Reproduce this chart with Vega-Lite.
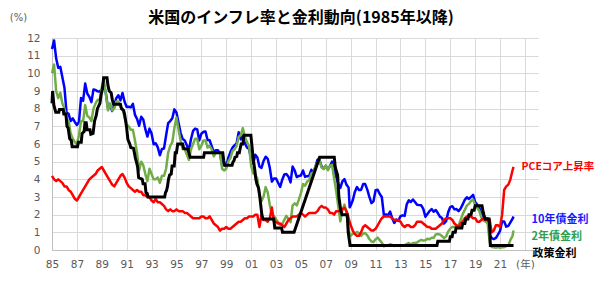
{
"$schema":"https://vega.github.io/schema/vega-lite/v6.json",
"width":486,"height":212,
"autosize":{"type":"none"},
"padding":{"left":52,"top":38,"right":62,"bottom":37},
"background":"white",
"config":{"view":{"stroke":null},"font":"DejaVu Sans"},
"title":{"text":"米国のインフレ率と金利動向(1985年以降)","font":"Noto Sans CJK JP","fontSize":16,"fontWeight":"bold","color":"#000000","anchor":"middle","dx":6,"offset":-14},
"datasets":{
"rates":[
{"t":1985.000,"y10":11.38,"y2":10.0,"pce":4.2},
{"t":1985.167,"y10":11.86,"y2":10.5,"pce":4.0},
{"t":1985.333,"y10":10.85,"y2":9.0,"pce":3.9},
{"t":1985.500,"y10":10.31,"y2":8.6,"pce":4.0},
{"t":1985.667,"y10":10.37,"y2":8.9,"pce":3.9},
{"t":1985.833,"y10":9.78,"y2":8.3,"pce":3.8},
{"t":1986.000,"y10":9.19,"y2":8.0,"pce":3.6},
{"t":1986.167,"y10":7.78,"y2":7.4,"pce":3.6},
{"t":1986.333,"y10":7.71,"y2":7.3,"pce":3.4},
{"t":1986.500,"y10":7.30,"y2":6.6,"pce":3.3},
{"t":1986.667,"y10":7.45,"y2":6.3,"pce":3.1},
{"t":1986.833,"y10":7.25,"y2":6.1,"pce":2.9},
{"t":1987.000,"y10":7.08,"y2":6.0,"pce":2.8},
{"t":1987.167,"y10":7.25,"y2":6.5,"pce":3.0},
{"t":1987.333,"y10":8.61,"y2":7.3,"pce":3.2},
{"t":1987.500,"y10":8.45,"y2":7.3,"pce":3.4},
{"t":1987.667,"y10":9.42,"y2":8.2,"pce":3.6},
{"t":1987.833,"y10":8.86,"y2":7.6,"pce":3.8},
{"t":1988.000,"y10":8.67,"y2":7.5,"pce":4.0},
{"t":1988.167,"y10":8.37,"y2":7.3,"pce":4.1},
{"t":1988.333,"y10":9.09,"y2":8.0,"pce":4.2},
{"t":1988.500,"y10":9.06,"y2":8.3,"pce":4.3},
{"t":1988.667,"y10":8.98,"y2":8.5,"pce":4.5},
{"t":1988.833,"y10":8.96,"y2":8.5,"pce":4.6},
{"t":1989.000,"y10":9.09,"y2":9.2,"pce":4.7},
{"t":1989.167,"y10":9.36,"y2":9.6,"pce":4.5},
{"t":1989.333,"y10":8.86,"y2":8.8,"pce":4.3},
{"t":1989.500,"y10":8.02,"y2":7.9,"pce":4.1},
{"t":1989.667,"y10":8.19,"y2":8.3,"pce":3.9},
{"t":1989.833,"y10":7.87,"y2":7.9,"pce":3.7},
{"t":1990.000,"y10":8.21,"y2":8.0,"pce":3.6},
{"t":1990.167,"y10":8.59,"y2":8.4,"pce":3.8},
{"t":1990.333,"y10":8.76,"y2":8.4,"pce":4.0},
{"t":1990.500,"y10":8.47,"y2":8.1,"pce":4.2},
{"t":1990.667,"y10":8.89,"y2":8.0,"pce":4.3},
{"t":1990.833,"y10":8.39,"y2":7.5,"pce":4.1},
{"t":1991.000,"y10":8.09,"y2":7.1,"pce":3.8},
{"t":1991.167,"y10":8.11,"y2":7.0,"pce":3.6},
{"t":1991.333,"y10":8.07,"y2":6.8,"pce":3.5},
{"t":1991.500,"y10":8.27,"y2":6.8,"pce":3.4},
{"t":1991.667,"y10":7.65,"y2":6.2,"pce":3.3},
{"t":1991.833,"y10":7.42,"y2":5.5,"pce":3.4},
{"t":1992.000,"y10":7.03,"y2":4.5,"pce":3.3},
{"t":1992.167,"y10":7.54,"y2":5.0,"pce":3.3},
{"t":1992.333,"y10":7.39,"y2":4.8,"pce":3.1},
{"t":1992.500,"y10":6.84,"y2":4.3,"pce":3.1},
{"t":1992.667,"y10":6.42,"y2":3.9,"pce":3.0},
{"t":1992.833,"y10":6.87,"y2":4.6,"pce":3.0},
{"t":1993.000,"y10":6.60,"y2":4.3,"pce":2.8},
{"t":1993.167,"y10":5.98,"y2":4.0,"pce":2.7},
{"t":1993.333,"y10":6.04,"y2":4.0,"pce":2.9},
{"t":1993.500,"y10":5.81,"y2":4.1,"pce":2.7},
{"t":1993.667,"y10":5.36,"y2":3.8,"pce":2.7},
{"t":1993.833,"y10":5.72,"y2":4.2,"pce":2.6},
{"t":1994.000,"y10":5.75,"y2":4.2,"pce":2.5},
{"t":1994.167,"y10":6.48,"y2":4.6,"pce":2.3},
{"t":1994.333,"y10":7.18,"y2":5.5,"pce":2.2},
{"t":1994.500,"y10":7.30,"y2":5.9,"pce":2.3},
{"t":1994.667,"y10":7.46,"y2":6.1,"pce":2.2},
{"t":1994.833,"y10":7.96,"y2":6.9,"pce":2.2},
{"t":1995.000,"y10":7.78,"y2":7.5,"pce":2.3},
{"t":1995.167,"y10":7.20,"y2":6.8,"pce":2.2},
{"t":1995.333,"y10":6.63,"y2":6.2,"pce":2.2},
{"t":1995.500,"y10":6.28,"y2":5.7,"pce":2.2},
{"t":1995.667,"y10":6.20,"y2":5.7,"pce":2.1},
{"t":1995.833,"y10":5.93,"y2":5.4,"pce":2.1},
{"t":1996.000,"y10":5.65,"y2":5.1,"pce":2.0},
{"t":1996.167,"y10":6.27,"y2":5.7,"pce":1.9},
{"t":1996.333,"y10":6.74,"y2":6.0,"pce":1.8},
{"t":1996.500,"y10":6.87,"y2":6.3,"pce":1.8},
{"t":1996.667,"y10":6.83,"y2":6.3,"pce":1.8},
{"t":1996.833,"y10":6.20,"y2":5.7,"pce":1.8},
{"t":1997.000,"y10":6.58,"y2":5.9,"pce":1.9},
{"t":1997.167,"y10":6.69,"y2":6.2,"pce":1.9},
{"t":1997.333,"y10":6.71,"y2":6.2,"pce":1.8},
{"t":1997.500,"y10":6.22,"y2":5.8,"pce":1.8},
{"t":1997.667,"y10":6.21,"y2":5.9,"pce":1.9},
{"t":1997.833,"y10":5.88,"y2":5.7,"pce":1.7},
{"t":1998.000,"y10":5.54,"y2":5.3,"pce":1.5},
{"t":1998.167,"y10":5.65,"y2":5.5,"pce":1.4},
{"t":1998.333,"y10":5.65,"y2":5.5,"pce":1.3},
{"t":1998.500,"y10":5.46,"y2":5.5,"pce":1.1},
{"t":1998.667,"y10":4.81,"y2":4.6,"pce":1.2},
{"t":1998.833,"y10":4.83,"y2":4.5,"pce":1.2},
{"t":1999.000,"y10":4.72,"y2":4.6,"pce":1.3},
{"t":1999.167,"y10":5.23,"y2":5.0,"pce":1.2},
{"t":1999.333,"y10":5.54,"y2":5.2,"pce":1.2},
{"t":1999.500,"y10":5.79,"y2":5.6,"pce":1.3},
{"t":1999.667,"y10":5.92,"y2":5.7,"pce":1.4},
{"t":1999.833,"y10":6.03,"y2":5.9,"pce":1.5},
{"t":2000.000,"y10":6.66,"y2":6.4,"pce":1.6},
{"t":2000.167,"y10":6.26,"y2":6.5,"pce":1.6},
{"t":2000.333,"y10":6.44,"y2":6.9,"pce":1.7},
{"t":2000.500,"y10":6.05,"y2":6.4,"pce":1.8},
{"t":2000.667,"y10":5.80,"y2":6.1,"pce":1.8},
{"t":2000.833,"y10":5.72,"y2":5.9,"pce":1.9},
{"t":2001.000,"y10":5.16,"y2":4.76,"pce":1.9},
{"t":2001.167,"y10":4.89,"y2":4.34,"pce":1.9},
{"t":2001.333,"y10":5.39,"y2":4.26,"pce":2.0},
{"t":2001.500,"y10":5.24,"y2":4.04,"pce":2.0},
{"t":2001.667,"y10":4.73,"y2":3.12,"pce":1.3},
{"t":2001.833,"y10":4.65,"y2":2.78,"pce":2.0},
{"t":2002.000,"y10":5.04,"y2":3.03,"pce":1.7},
{"t":2002.167,"y10":5.28,"y2":3.56,"pce":1.7},
{"t":2002.333,"y10":5.16,"y2":3.26,"pce":1.6},
{"t":2002.500,"y10":4.65,"y2":2.56,"pce":1.8},
{"t":2002.667,"y10":3.87,"y2":2.00,"pce":2.4},
{"t":2002.833,"y10":4.05,"y2":1.92,"pce":1.6},
{"t":2003.000,"y10":4.05,"y2":1.74,"pce":1.6},
{"t":2003.167,"y10":3.81,"y2":1.57,"pce":1.5},
{"t":2003.333,"y10":3.57,"y2":1.42,"pce":1.5},
{"t":2003.500,"y10":3.98,"y2":1.47,"pce":1.4},
{"t":2003.667,"y10":4.27,"y2":1.71,"pce":1.3},
{"t":2003.833,"y10":4.30,"y2":1.93,"pce":1.5},
{"t":2004.000,"y10":4.15,"y2":1.76,"pce":1.7},
{"t":2004.167,"y10":3.83,"y2":1.58,"pce":1.8},
{"t":2004.333,"y10":4.72,"y2":2.53,"pce":1.9},
{"t":2004.500,"y10":4.50,"y2":2.64,"pce":1.9},
{"t":2004.667,"y10":4.13,"y2":2.53,"pce":1.9},
{"t":2004.833,"y10":4.19,"y2":2.85,"pce":2.0},
{"t":2005.000,"y10":4.22,"y2":3.22,"pce":2.1},
{"t":2005.167,"y10":4.50,"y2":3.73,"pce":2.0},
{"t":2005.333,"y10":4.14,"y2":3.64,"pce":1.9},
{"t":2005.500,"y10":4.18,"y2":3.87,"pce":2.0},
{"t":2005.667,"y10":4.20,"y2":3.95,"pce":2.1},
{"t":2005.833,"y10":4.54,"y2":4.33,"pce":2.1},
{"t":2006.000,"y10":4.42,"y2":4.36,"pce":2.1},
{"t":2006.167,"y10":4.72,"y2":4.72,"pce":2.1},
{"t":2006.333,"y10":5.11,"y2":4.96,"pce":2.2},
{"t":2006.500,"y10":5.09,"y2":5.04,"pce":2.4},
{"t":2006.667,"y10":4.72,"y2":4.67,"pce":2.5},
{"t":2006.833,"y10":4.60,"y2":4.58,"pce":2.4},
{"t":2007.000,"y10":4.76,"y2":4.79,"pce":2.4},
{"t":2007.167,"y10":4.56,"y2":4.51,"pce":2.3},
{"t":2007.333,"y10":4.75,"y2":4.77,"pce":2.1},
{"t":2007.500,"y10":5.00,"y2":4.82,"pce":2.1},
{"t":2007.667,"y10":4.52,"y2":4.06,"pce":2.0},
{"t":2007.833,"y10":4.15,"y2":3.34,"pce":2.2},
{"t":2008.000,"y10":3.74,"y2":2.48,"pce":2.2},
{"t":2008.167,"y10":3.51,"y2":1.62,"pce":2.2},
{"t":2008.333,"y10":3.88,"y2":2.26,"pce":2.3},
{"t":2008.500,"y10":4.01,"y2":2.57,"pce":2.4},
{"t":2008.667,"y10":3.69,"y2":2.08,"pce":2.2},
{"t":2008.833,"y10":3.53,"y2":1.21,"pce":1.8},
{"t":2008.917,"y10":2.42,"y2":0.82,"pce":1.6},
{"t":2009.000,"y10":2.52,"y2":0.81,"pce":1.4},
{"t":2009.167,"y10":2.82,"y2":0.93,"pce":1.1},
{"t":2009.333,"y10":3.29,"y2":0.92,"pce":0.9},
{"t":2009.500,"y10":3.56,"y2":1.02,"pce":0.8},
{"t":2009.667,"y10":3.40,"y2":0.96,"pce":0.8},
{"t":2009.833,"y10":3.40,"y2":0.80,"pce":1.0},
{"t":2010.000,"y10":3.73,"y2":0.93,"pce":1.3},
{"t":2010.167,"y10":3.73,"y2":0.96,"pce":1.4},
{"t":2010.333,"y10":3.42,"y2":0.83,"pce":1.3},
{"t":2010.500,"y10":3.01,"y2":0.62,"pce":1.2},
{"t":2010.667,"y10":2.65,"y2":0.48,"pce":1.1},
{"t":2010.833,"y10":2.76,"y2":0.45,"pce":1.1},
{"t":2011.000,"y10":3.39,"y2":0.61,"pce":1.2},
{"t":2011.167,"y10":3.41,"y2":0.70,"pce":1.4},
{"t":2011.333,"y10":3.17,"y2":0.56,"pce":1.6},
{"t":2011.500,"y10":3.00,"y2":0.41,"pce":1.8},
{"t":2011.667,"y10":1.98,"y2":0.21,"pce":1.9},
{"t":2011.833,"y10":2.01,"y2":0.25,"pce":1.9},
{"t":2012.000,"y10":1.97,"y2":0.24,"pce":1.9},
{"t":2012.167,"y10":2.17,"y2":0.33,"pce":1.9},
{"t":2012.333,"y10":1.80,"y2":0.29,"pce":1.8},
{"t":2012.500,"y10":1.53,"y2":0.23,"pce":1.7},
{"t":2012.667,"y10":1.72,"y2":0.26,"pce":1.7},
{"t":2012.833,"y10":1.65,"y2":0.27,"pce":1.7},
{"t":2013.000,"y10":1.91,"y2":0.27,"pce":1.6},
{"t":2013.167,"y10":1.96,"y2":0.26,"pce":1.4},
{"t":2013.333,"y10":1.93,"y2":0.25,"pce":1.3},
{"t":2013.500,"y10":2.58,"y2":0.34,"pce":1.4},
{"t":2013.667,"y10":2.81,"y2":0.40,"pce":1.4},
{"t":2013.833,"y10":2.72,"y2":0.30,"pce":1.3},
{"t":2014.000,"y10":2.86,"y2":0.39,"pce":1.3},
{"t":2014.167,"y10":2.72,"y2":0.40,"pce":1.4},
{"t":2014.333,"y10":2.56,"y2":0.42,"pce":1.6},
{"t":2014.500,"y10":2.54,"y2":0.51,"pce":1.6},
{"t":2014.667,"y10":2.53,"y2":0.57,"pce":1.6},
{"t":2014.833,"y10":2.33,"y2":0.53,"pce":1.5},
{"t":2015.000,"y10":1.88,"y2":0.55,"pce":1.4},
{"t":2015.167,"y10":2.04,"y2":0.64,"pce":1.3},
{"t":2015.333,"y10":2.20,"y2":0.61,"pce":1.3},
{"t":2015.500,"y10":2.32,"y2":0.69,"pce":1.2},
{"t":2015.667,"y10":2.17,"y2":0.69,"pce":1.2},
{"t":2015.833,"y10":2.26,"y2":0.88,"pce":1.2},
{"t":2016.000,"y10":2.09,"y2":0.90,"pce":1.3},
{"t":2016.167,"y10":1.89,"y2":0.88,"pce":1.4},
{"t":2016.333,"y10":1.81,"y2":0.79,"pce":1.5},
{"t":2016.500,"y10":1.50,"y2":0.67,"pce":1.7},
{"t":2016.667,"y10":1.63,"y2":0.77,"pce":1.8},
{"t":2016.833,"y10":2.14,"y2":1.05,"pce":1.8},
{"t":2017.000,"y10":2.43,"y2":1.21,"pce":1.8},
{"t":2017.167,"y10":2.48,"y2":1.31,"pce":1.7},
{"t":2017.333,"y10":2.30,"y2":1.29,"pce":1.5},
{"t":2017.500,"y10":2.32,"y2":1.36,"pce":1.4},
{"t":2017.667,"y10":2.20,"y2":1.38,"pce":1.3},
{"t":2017.833,"y10":2.35,"y2":1.70,"pce":1.5},
{"t":2018.000,"y10":2.58,"y2":2.03,"pce":1.6},
{"t":2018.167,"y10":2.84,"y2":2.27,"pce":1.8},
{"t":2018.333,"y10":2.98,"y2":2.51,"pce":1.9},
{"t":2018.500,"y10":2.89,"y2":2.61,"pce":1.9},
{"t":2018.667,"y10":3.00,"y2":2.77,"pce":1.9},
{"t":2018.833,"y10":3.12,"y2":2.86,"pce":1.8},
{"t":2019.000,"y10":2.71,"y2":2.55,"pce":1.8},
{"t":2019.167,"y10":2.57,"y2":2.39,"pce":1.6},
{"t":2019.333,"y10":2.40,"y2":2.21,"pce":1.6},
{"t":2019.500,"y10":2.06,"y2":1.84,"pce":1.7},
{"t":2019.667,"y10":1.70,"y2":1.67,"pce":1.8},
{"t":2019.833,"y10":1.81,"y2":1.61,"pce":1.7},
{"t":2020.000,"y10":1.76,"y2":1.52,"pce":1.8},
{"t":2020.167,"y10":0.87,"y2":0.45,"pce":1.7},
{"t":2020.333,"y10":0.67,"y2":0.17,"pce":1.0},
{"t":2020.500,"y10":0.62,"y2":0.15,"pce":1.1},
{"t":2020.667,"y10":0.68,"y2":0.13,"pce":1.4},
{"t":2020.833,"y10":0.87,"y2":0.17,"pce":1.4},
{"t":2021.000,"y10":1.08,"y2":0.13,"pce":1.3},
{"t":2021.167,"y10":1.61,"y2":0.15,"pce":2.0},
{"t":2021.333,"y10":1.62,"y2":0.16,"pce":3.4},
{"t":2021.500,"y10":1.32,"y2":0.22,"pce":3.6},
{"t":2021.667,"y10":1.37,"y2":0.24,"pce":3.7},
{"t":2021.833,"y10":1.56,"y2":0.57,"pce":4.0},
{"t":2022.000,"y10":1.76,"y2":0.78,"pce":4.5},
{"t":2022.083,"y10":1.90,"y2":1.10,"pce":4.7}
],
"policy":[
{"t":1985.00,"value":8.3},{"t":1985.05,"value":9.0},{"t":1985.15,"value":8.2},{"t":1985.3,"value":7.8},
{"t":1985.55,"value":7.8},{"t":1985.6,"value":7.95},{"t":1985.9,"value":7.95},{"t":1985.95,"value":7.7},
{"t":1986.12,"value":7.7},{"t":1986.2,"value":7.0},{"t":1986.3,"value":6.9},{"t":1986.42,"value":6.3},
{"t":1986.55,"value":6.2},{"t":1986.62,"value":5.85},{"t":1987.05,"value":5.85},{"t":1987.12,"value":6.1},
{"t":1987.35,"value":6.1},{"t":1987.42,"value":6.6},{"t":1987.58,"value":6.7},{"t":1987.65,"value":7.2},
{"t":1987.75,"value":7.2},{"t":1987.82,"value":6.8},{"t":1988.05,"value":6.8},{"t":1988.12,"value":6.55},
{"t":1988.3,"value":6.6},{"t":1988.42,"value":7.3},{"t":1988.55,"value":7.6},{"t":1988.65,"value":8.0},
{"t":1988.85,"value":8.3},{"t":1988.95,"value":8.8},{"t":1989.05,"value":9.1},{"t":1989.15,"value":9.75},
{"t":1989.42,"value":9.75},{"t":1989.5,"value":9.3},{"t":1989.6,"value":9.0},{"t":1989.75,"value":8.9},
{"t":1989.85,"value":8.5},{"t":1989.95,"value":8.25},{"t":1990.5,"value":8.25},{"t":1990.58,"value":8.0},
{"t":1990.75,"value":7.9},{"t":1990.83,"value":7.7},{"t":1990.92,"value":7.3},{"t":1991.0,"value":6.9},
{"t":1991.1,"value":6.25},{"t":1991.25,"value":6.0},{"t":1991.33,"value":5.8},{"t":1991.55,"value":5.75},
{"t":1991.62,"value":5.5},{"t":1991.7,"value":5.2},{"t":1991.8,"value":4.95},{"t":1991.88,"value":4.7},
{"t":1991.96,"value":4.1},{"t":1992.25,"value":4.0},{"t":1992.32,"value":3.75},{"t":1992.48,"value":3.75},
{"t":1992.55,"value":3.25},{"t":1992.65,"value":3.2},{"t":1992.72,"value":3.0},{"t":1994.05,"value":3.0},
{"t":1994.12,"value":3.25},{"t":1994.2,"value":3.35},{"t":1994.28,"value":3.6},{"t":1994.36,"value":4.0},
{"t":1994.45,"value":4.25},{"t":1994.58,"value":4.3},{"t":1994.65,"value":4.75},{"t":1994.82,"value":4.75},
{"t":1994.9,"value":5.5},{"t":1995.0,"value":5.5},{"t":1995.1,"value":6.0},{"t":1995.5,"value":6.0},
{"t":1995.58,"value":5.75},{"t":1995.92,"value":5.7},{"t":1996.0,"value":5.5},{"t":1996.1,"value":5.25},
{"t":1997.18,"value":5.25},{"t":1997.25,"value":5.5},{"t":1998.72,"value":5.5},{"t":1998.8,"value":5.05},
{"t":1998.88,"value":4.8},{"t":1999.47,"value":4.8},{"t":1999.55,"value":5.0},{"t":1999.62,"value":5.05},
{"t":1999.7,"value":5.25},{"t":1999.85,"value":5.3},{"t":1999.9,"value":5.5},{"t":2000.05,"value":5.5},
{"t":2000.12,"value":5.75},{"t":2000.2,"value":6.0},{"t":2000.33,"value":6.0},{"t":2000.42,"value":6.5},
{"t":2000.98,"value":6.5},{"t":2001.05,"value":6.0},{"t":2001.12,"value":5.5},{"t":2001.2,"value":5.0},
{"t":2001.3,"value":4.5},{"t":2001.38,"value":4.0},{"t":2001.46,"value":3.75},{"t":2001.6,"value":3.5},
{"t":2001.7,"value":3.0},{"t":2001.78,"value":2.5},{"t":2001.86,"value":2.0},{"t":2001.95,"value":1.75},
{"t":2002.82,"value":1.75},{"t":2002.9,"value":1.25},{"t":2003.45,"value":1.25},{"t":2003.52,"value":1.0},
{"t":2004.45,"value":1.0},{"t":2006.5,"value":5.25},{"t":2007.68,"value":5.25},{"t":2007.75,"value":4.75},
{"t":2007.83,"value":4.5},{"t":2007.95,"value":4.25},{"t":2008.05,"value":3.0},{"t":2008.2,"value":2.25},
{"t":2008.3,"value":2.0},{"t":2008.72,"value":2.0},{"t":2008.8,"value":1.0},{"t":2008.95,"value":0.25},
{"t":2015.93,"value":0.25},{"t":2016.0,"value":0.5},{"t":2016.93,"value":0.5},{"t":2017.0,"value":0.75},
{"t":2017.15,"value":0.75},{"t":2017.22,"value":1.0},{"t":2017.4,"value":1.0},{"t":2017.47,"value":1.25},
{"t":2017.93,"value":1.25},{"t":2018.0,"value":1.5},{"t":2018.17,"value":1.5},{"t":2018.25,"value":1.75},
{"t":2018.42,"value":1.75},{"t":2018.5,"value":2.0},{"t":2018.67,"value":2.0},{"t":2018.75,"value":2.25},
{"t":2018.92,"value":2.25},{"t":2019.0,"value":2.5},{"t":2019.55,"value":2.5},{"t":2019.62,"value":2.25},
{"t":2019.7,"value":2.0},{"t":2019.8,"value":1.75},{"t":2020.12,"value":1.75},{"t":2020.17,"value":1.25},
{"t":2020.22,"value":0.25},{"t":2022.083,"value":0.25}
]
},
"encoding":{
  "x":{"field":"t","type":"quantitative","scale":{"domain":[1985,2024.05],"nice":false,"zero":false},
   "axis":{"title":null,"values":[1985,1987,1989,1991,1993,1995,1997,1999,2001,2003,2005,2007,2009,2011,2013,2015,2017,2019,2021,2023],
    "labelExpr":"datum.value == 2023 ? '(年)' : format(datum.value % 100, '02d')",
    "labelFont":"DejaVu Sans, Noto Sans CJK JP","labelFontSize":10.5,"labelColor":"#595959","labelPadding":9,"labelFlush":false,"labelOverlap":false,
    "ticks":false,"domainColor":"#bfbfbf","grid":true,"gridColor":"#d9d9d9","gridWidth":1}},
  "y":{"field":"value","type":"quantitative","scale":{"domain":[0,12],"nice":false},
   "axis":{"title":"(%)","titleAngle":0,"titleX":-34,"titleY":-21,"titleAlign":"center","titleBaseline":"middle","titleFont":"DejaVu Sans","titleFontSize":10,"titleFontWeight":"normal","titleColor":"#595959",
    "values":[0,1,2,3,4,5,6,7,8,9,10,11,12],"labelFont":"DejaVu Sans","labelFontSize":10.5,"labelColor":"#595959","labelPadding":12,"labelFlush":false,"labelOverlap":false,
    "ticks":false,"domainColor":"#bfbfbf","grid":true,"gridColor":"#d9d9d9","gridWidth":1}}
},
"layer":[
{"data":{"name":"rates"},
 "transform":[{"fold":["y10","y2","pce"],"as":["series","value"]}],
 "mark":{"type":"line","strokeWidth":2.5,"strokeJoin":"round"},
 "encoding":{
  "color":{"field":"series","type":"nominal","scale":{"domain":["y10","y2","pce"],"range":["#0000ff","#70ad47","#ff0000"]},"legend":null}
 }},
{"data":{"name":"policy"},
 "mark":{"type":"line","color":"#000000","strokeWidth":3,"strokeJoin":"miter"},
 "encoding":{}},
{"data":{"name":"rates"},"transform":[{"fold":["pce"],"as":["series","value"]},{"filter":"datum.t == 2022.083"}],
 "mark":{"type":"text","align":"left","baseline":"middle","dx":8,"dy":0,"font":"Noto Sans CJK JP","fontSize":10.5,"fontWeight":"bold","color":"#ff0000"},
 "encoding":{"text":{"value":"PCEコア上昇率"}}},
{"data":{"name":"rates"},"transform":[{"fold":["y10"],"as":["series","value"]},{"filter":"datum.t == 2022.083"}],
 "mark":{"type":"text","align":"left","baseline":"middle","dx":18,"dy":3.5,"font":"Noto Sans CJK JP","fontSize":11,"fontWeight":"bold","color":"#1a1aff"},
 "encoding":{"text":{"value":"10年債金利"}}},
{"data":{"name":"rates"},"transform":[{"fold":["y2"],"as":["series","value"]},{"filter":"datum.t == 2022.083"}],
 "mark":{"type":"text","align":"left","baseline":"middle","dx":18,"dy":6,"font":"Noto Sans CJK JP","fontSize":11,"fontWeight":"bold","color":"#2e9e4f"},
 "encoding":{"text":{"value":"2年債金利"}}},
{"data":{"name":"policy"},"transform":[{"filter":"datum.t == 2022.083"}],
 "mark":{"type":"text","align":"left","baseline":"middle","dx":19,"dy":8,"font":"Noto Sans CJK JP","fontSize":11,"fontWeight":"bold","color":"#000000"},
 "encoding":{"text":{"value":"政策金利"}}}
]
}
